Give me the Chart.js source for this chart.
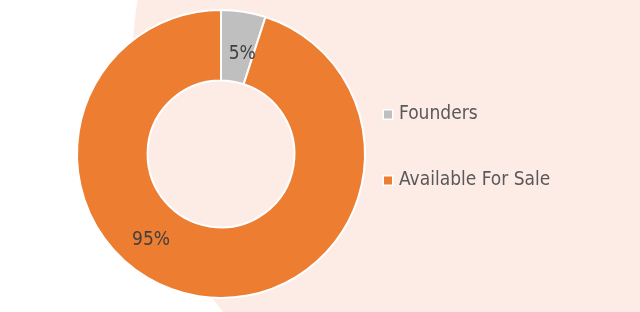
<!DOCTYPE html>
<html>
<head>
<meta charset="utf-8">
<script src="https://cdn.jsdelivr.net/npm/chart.js@4.4.1/dist/chart.umd.min.js"></script>
<style>
  html, body { margin: 0; padding: 0; }
  body {
    width: 640px; height: 312px; overflow: hidden;
    background: radial-gradient(ellipse 510px 444px at 642px 60px, #fdece6 99.7%, #ffffff 100%);
  }
  #wrap { position: relative; width: 640px; height: 312px; }
</style>
</head>
<body>
<div id="wrap"><canvas id="myChart"></canvas></div>
<script>
const labels = ['Founders', 'Available For Sale'];
const shares = [5, 95];
const sliceColors = ['#bfbfbf', '#ed7d31'];
// where Excel put the percentage labels (degrees, and fraction across the ring)
const labelAngles = [-78, 129];
const labelDepth = [0.41, 0.535];

const FONT = '"Liberation Sans Narrow", "DejaVu Sans Condensed", "Liberation Sans", sans-serif';

// percentage text on each slice
const sliceLabels = {
    id: 'sliceLabels',
    afterDatasetsDraw(chart) {
        const ctx = chart.ctx;
        const total = shares.reduce((a, b) => a + b, 0);
        chart.getDatasetMeta(0).data.forEach((arc, i) => {
            const a = labelAngles[i] * Math.PI / 180;
            const r = arc.innerRadius + labelDepth[i] * (arc.outerRadius - arc.innerRadius);
            const x = arc.x + r * Math.cos(a);
            const y = arc.y + r * Math.sin(a);
            ctx.save();
            ctx.font = '19px ' + FONT;
            ctx.fillStyle = '#404040';
            ctx.textAlign = 'center';
            ctx.textBaseline = 'middle';
            ctx.fillText(Math.round(shares[i] / total * 100) + '%', x, y);
            ctx.restore();
        });
    }
};

// legend drawn to the right of the ring, like the Excel one
const sideLegend = {
    id: 'sideLegend',
    afterDraw(chart) {
        const ctx = chart.ctx;
        const x0 = 384, rows = [114.5, 180.5];
        labels.forEach((text, i) => {
            const y = rows[i];
            ctx.save();
            ctx.fillStyle = '#ffffff';
            ctx.fillRect(x0 - 1.5, y - 5.5, 11, 11);
            ctx.fillStyle = sliceColors[i];
            ctx.fillRect(x0, y - 4, 8, 8);
            ctx.font = '19px ' + FONT;
            ctx.fillStyle = '#595959';
            ctx.textAlign = 'left';
            ctx.textBaseline = 'middle';
            ctx.fillText(text, 399, y);
            ctx.restore();
        });
    }
};

const ctx = document.getElementById('myChart').getContext('2d');

const myChart = new Chart(ctx, {
    type: 'doughnut',
    data: {
        labels: labels,
        datasets: [{
            data: shares,
            backgroundColor: sliceColors,
            borderColor: '#ffffff',
            borderWidth: 2
        }]
    },
    options: {
        responsive: true,
        maintainAspectRatio: false,
        animation: false,
        cutout: '51%',
        layout: {
            padding: { left: 76, right: 274, top: 9, bottom: 13 }
        },
        plugins: {
            legend: { display: false },
            tooltip: { enabled: false }
        }
    },
    plugins: [sliceLabels, sideLegend]
});
</script>
</body>
</html>
